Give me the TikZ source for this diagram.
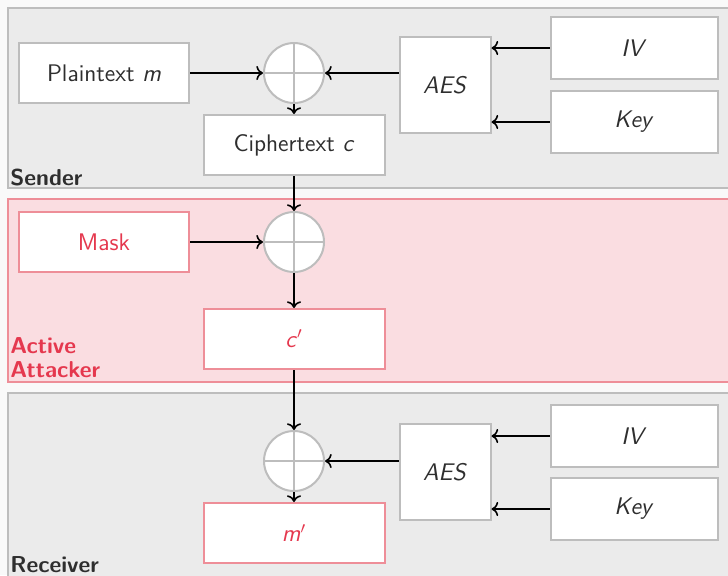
\documentclass[tikz,border=0pt]{standalone}
\usepackage{fontspec}
\usepackage{xcolor}
\usepackage{tikz}
\usetikzlibrary{positioning, arrows.meta}

\definecolor{panelgray}{HTML}{EBEBEB}
\definecolor{edgegray}{HTML}{BDBDBD}
\definecolor{attackfill}{HTML}{FADDE1}
\definecolor{attackedge}{HTML}{EE8E98}
\definecolor{attackred}{HTML}{E5384E}
\definecolor{textdark}{HTML}{2E2E2E}

\begin{document}
\begin{tikzpicture}[x=0.5pt, y=-0.5pt,
    every node/.style={font=\sffamily\fontsize{12}{14}\selectfont, text=textdark},
    box/.style={draw=edgegray, line width=1pt, fill=white, minimum width=85pt, minimum height=30pt},
    widebox/.style={box, minimum width=90.5pt},
    aesbox/.style={box, minimum width=45.5pt, minimum height=48pt},
    keybox/.style={box, minimum width=83.5pt, minimum height=31pt},
    redbox/.style={draw=attackedge, text=attackred},
    xorop/.style={circle, draw=edgegray, line width=1pt, fill=white, minimum size=30pt, inner sep=0pt,
        path picture={\draw[edgegray, line width=1pt]
            (path picture bounding box.north) -- (path picture bounding box.south)
            (path picture bounding box.west) -- (path picture bounding box.east);}},
    panellabel/.style={font=\sffamily\bfseries\fontsize{11.5}{12}\selectfont, inner sep=0pt, anchor=base west, align=left}
]
    \useasboundingbox (0,0) rectangle (728,575);
    \fill[gray!5] (0,0) rectangle (728,575);
    % panels
    \draw[edgegray, line width=1pt, fill=panelgray] (8,8) rectangle (731,188);
    \draw[attackedge, line width=1pt, fill=attackfill] (8,199) rectangle (731,382);
    \draw[edgegray, line width=1pt, fill=panelgray] (8,393) rectangle (731,580);
    \node[panellabel] (senderlbl) at (10,185) {Sender};
    \node[panellabel, text=attackred] (attacklbl) at (10,377) {Active\\Attacker};
    \node[panellabel] (receiverlbl) at (10,572) {Receiver};

    % sender
    \node[box] (plain) at (104,73) {Plaintext \textit{m}};
    \node[xorop] (xor1) at (294,73) {};
    \node[widebox] (cipher) at (294,145) {Ciphertext \textit{c}};
    \node[aesbox] (aes1) at (445,85) {\textit{AES}};
    \node[keybox] (iv1) at (634,48) {\textit{IV}};
    \node[keybox] (key1) at (634,122) {\textit{Key}};

    % attacker
    \node[box, redbox] (mask) at (104,242) {Mask};
    \node[xorop] (xor2) at (294,242) {};
    \node[widebox, redbox] (cprime) at (294,339) {\textit{c}$'$};

    % receiver
    \node[xorop] (xor3) at (294,461) {};
    \node[widebox, redbox] (mprime) at (294,533) {\textit{m}$'$};
    \node[aesbox] (aes2) at (445,472) {\textit{AES}};
    \node[keybox] (iv2) at (634,436) {\textit{IV}};
    \node[keybox] (key2) at (634,509) {\textit{Key}};

    \draw[->, thick] (plain) -- (xor1);
    \draw[->, thick] (aes1.west |- xor1.east) -- (xor1.east);
    \draw[->, thick] (iv1.west) -- (iv1.west -| aes1.east);
    \draw[->, thick] (key1.west) -- (key1.west -| aes1.east);
    \draw[->, thick] (xor1) -- (cipher);
    \draw[->, thick] (cipher) -- (xor2);
    \draw[->, thick] (mask) -- (xor2);
    \draw[->, thick] (xor2) -- (cprime);
    \draw[->, thick] (cprime) -- (xor3);
    \draw[->, thick] (aes2.west |- xor3.east) -- (xor3.east);
    \draw[->, thick] (iv2.west) -- (iv2.west -| aes2.east);
    \draw[->, thick] (key2.west) -- (key2.west -| aes2.east);
    \draw[->, thick] (xor3) -- (mprime);
\end{tikzpicture}
\end{document}
